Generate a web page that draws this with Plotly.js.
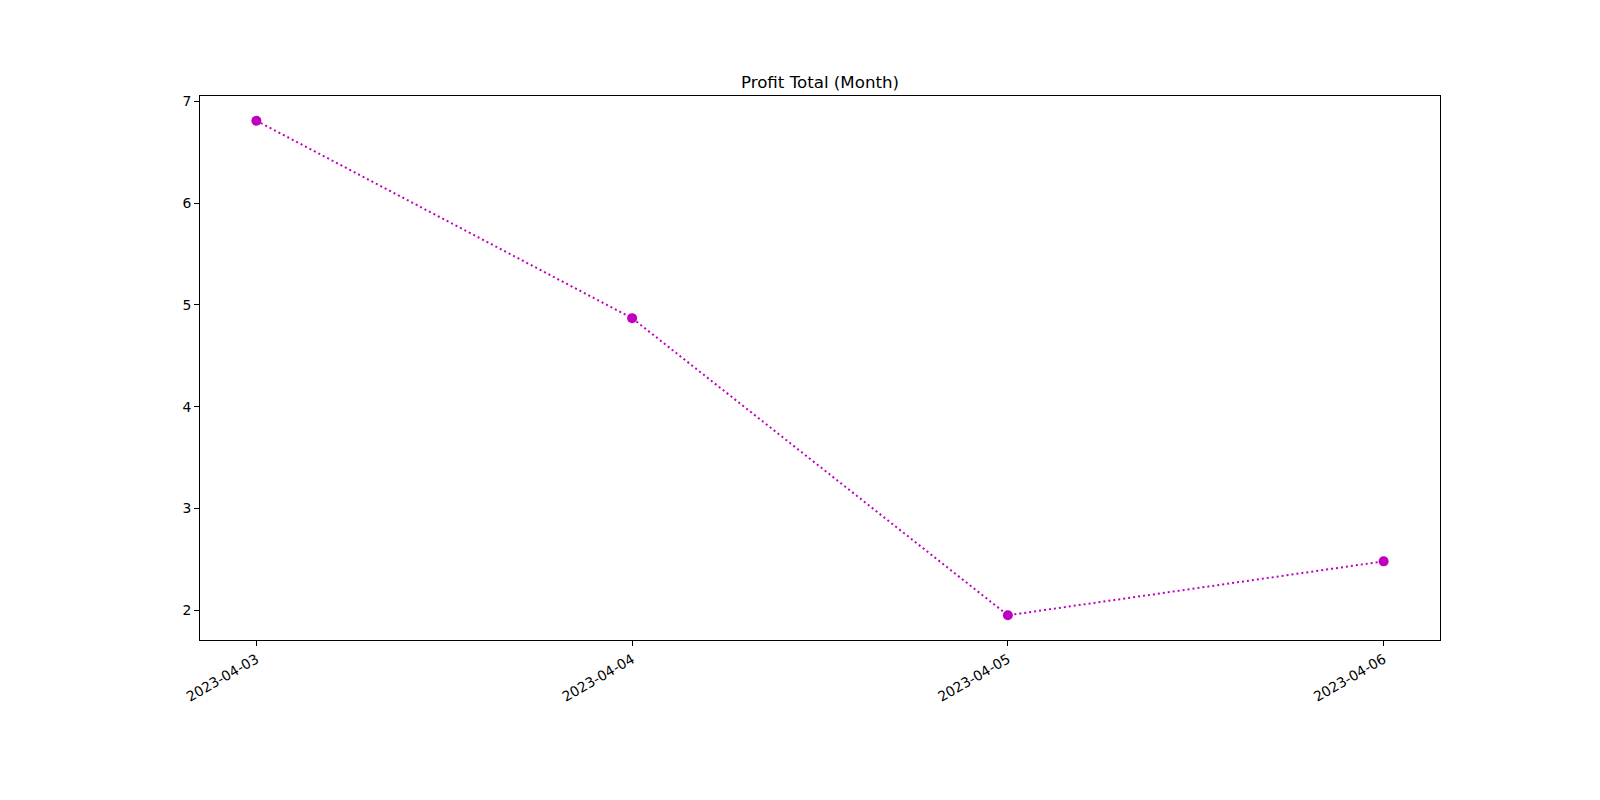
<!DOCTYPE html>
<html>
<head>
<meta charset="utf-8">
<script src="https://cdn.plot.ly/plotly-3.0.1.min.js"></script>
<style>html,body{margin:0;padding:0;background:#fff;}#chart{width:1600px;height:800px;}</style>
</head>
<body>
<div id="chart"></div>
<script>
const dates = ["2023-04-03", "2023-04-04", "2023-04-05", "2023-04-06"];
const profit = [6.81, 4.87, 1.95, 2.48];
const yTicks = [2, 3, 4, 5, 6, 7];

const trace = {
  x: dates,
  y: profit,
  type: 'scatter',
  mode: 'lines+markers',
  line: {color: '#bf00bf', width: 2, dash: '2px,3px'},
  marker: {color: '#bf00bf', size: 10},
  hoverinfo: 'x+y'
};

const axisCommon = {
  showline: true, linecolor: '#000', linewidth: 1, mirror: true,
  showgrid: false, zeroline: false,
  ticks: 'outside', ticklen: 5, tickwidth: 1, tickcolor: '#000',
  tickfont: {family: 'DejaVu Sans', size: 13.9, color: '#000'}
};

const layout = {
  width: 1600, height: 800,
  paper_bgcolor: '#fff', plot_bgcolor: '#fff',
  margin: {l: 200, r: 160, t: 96, b: 160},
  showlegend: false,
  title: {text: 'Profit Total (Month)', font: {family: 'DejaVu Sans', size: 16.67, color: '#000'},
          xref: 'paper', x: 0.5, xanchor: 'center', yref: 'container', y: 1 - 82/800, yanchor: 'middle'},
  xaxis: Object.assign({}, axisCommon, {
    type: 'category', range: [-0.15, 3.15], tickangle: -30,
    tickvals: dates, ticktext: dates
  }),
  yaxis: Object.assign({}, axisCommon, {
    range: [1.707, 7.053], tickvals: yTicks, ticktext: yTicks.map(String)
  })
};

Plotly.newPlot('chart', [trace], layout, {displayModeBar: false, staticPlot: true});
</script>
</body>
</html>
